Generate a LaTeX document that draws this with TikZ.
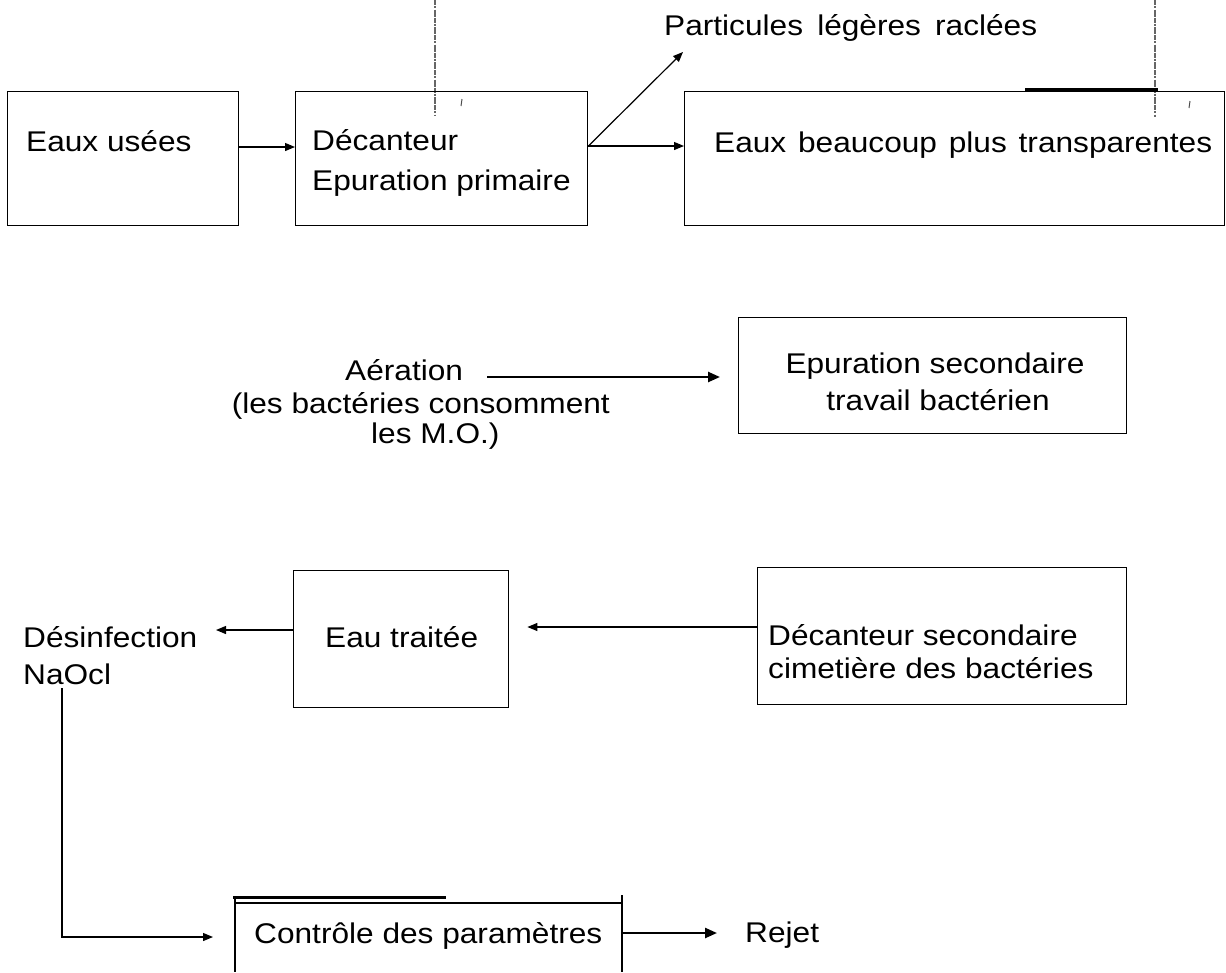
\documentclass[tikz,border=0pt]{standalone}
\usepackage{fontspec}
\setmainfont{Liberation Sans}[FakeStretch=1.11]
\usetikzlibrary{arrows.meta}
\begin{document}
\begin{tikzpicture}[x=1pt,y=-1pt,
  txt/.style={inner sep=0pt, anchor=base west, font=\fontsize{28.5}{34}\selectfont},
  ctxt/.style={inner sep=0pt, anchor=base, font=\fontsize{28.5}{34}\selectfont},
  boxline/.style={draw, line width=1.4pt, anchor=north west, inner sep=0pt},
  conn/.style={line width=1.2pt, -{Triangle[length=10pt,width=8pt]}},
  thickconn/.style={line width=2.4pt, -{Triangle[length=12pt,width=10pt]}},
  bar/.style={line width=3pt},
  noise/.style={line width=1.6pt, black!60, dash pattern=on 5pt off 1pt on 2pt off 1.5pt on 7pt off 1pt}]
\useasboundingbox[fill=white] (0,0) rectangle (1226,972);

% ---- scan marks ----
\draw[noise] (435,0) -- (435,115);
\draw[noise] (1155,0) -- (1155,117);
\draw[line width=1pt, black!70] (462,99) -- (461,106);
\draw[line width=1pt, black!70] (1190,101) -- (1189,108);

% ---- row 1 ----
\node[boxline, minimum width=231pt, minimum height=134pt] (b1) at (7,91) {};
\node[boxline, minimum width=292pt, minimum height=134pt] (b2) at (295,91) {};
\node[boxline, minimum width=540pt, minimum height=134pt] (b3) at (684,91) {};
\draw[bar] (1025,89) -- (1158,89);

\node[txt] (t1) at (26,151) {Eaux usées};
\node[txt] (t2a) at (312,150) {Décanteur};
\node[txt] (t2b) at (312,190) {Epuration primaire};
\node[txt] (t3) at (714,152) {\makebox[498pt][s]{Eaux beaucoup plus transparentes}};
\node[txt] (part) at (664,35) {\makebox[373pt][s]{Particules légères raclées}};
\coordinate (ptip) at (683,52);

\draw[conn] ([yshift=-56pt]b1.north east) -- ([yshift=-56pt]b2.north west);
\draw[conn] ([yshift=-55pt]b2.north east) -- (ptip);
\draw[conn] ([yshift=-55pt]b2.north east) -- ([yshift=-55pt]b3.north west);

% ---- row 2 ----
\node[boxline, minimum width=388pt, minimum height=116pt] (b4) at (738,317) {};
\node[ctxt] (t4a) at (935,373) {Epuration secondaire};
\node[ctxt] (t4b) at (938,410) {travail bactérien};
\node[txt] (aer) at (345,380) {Aération};
\node[txt, anchor=base east] (aer2) at (610,413) {(les bactéries consomment};
\node[txt] (aer3) at (371,443) {les M.O.)};
\coordinate (aerS) at (487,377);
\draw[thickconn, shorten >=18pt] (aerS) -- (aerS -| b4.west);

% ---- row 3 ----
\node[boxline, minimum width=215pt, minimum height=137pt] (b5) at (293,570) {};
\node[boxline, minimum width=369pt, minimum height=137pt] (b6) at (757,567) {};
\node[txt] (t5) at (325,647) {Eau traitée};
\node[txt] (t6a) at (768,645) {Décanteur secondaire};
\node[txt] (t6b) at (768,678) {cimetière des bactéries};
\node[txt] (des) at (23,647) {Désinfection};
\node[txt] (naocl) at (23,684) {NaOcl};
\coordinate (dtip) at (216,630);

\draw[conn, shorten >=18pt] ([yshift=-60pt]b6.north west) -- ([yshift=-60pt]b6.north west -| b5.east);
\draw[conn] ([yshift=-60pt]b5.north west) -- (dtip);

% ---- row 4 ----
\coordinate (cl) at (235,937);
\coordinate (cr) at (622,933);
\draw[line width=2pt] (235,898) -- (235,972);
\draw[line width=2pt] (622,895) -- (622,972);
\draw[line width=1.3pt] (235,903) -- (622,903);
\draw[bar] (233,897) -- (446,897);
\node[txt] (ctl) at (254,943) {Contrôle des paramètres};
\node[txt] (rej) at (745,942) {Rejet};
\coordinate (vtop) at (62,688);

\draw[conn, shorten >=22pt] (vtop) |- (cl);
\draw[thickconn, shorten >=28pt] (cr) -- (cr -| rej.west);
\end{tikzpicture}
\end{document}
